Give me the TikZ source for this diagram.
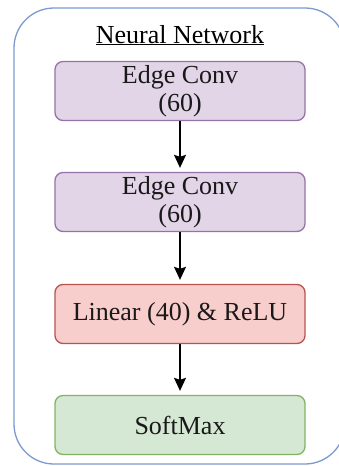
\documentclass[tikz,border=0pt]{standalone}
\usepackage{fontspec}
\setmainfont{Liberation Serif}
\usetikzlibrary{arrows.meta}
\definecolor{frameblue}{HTML}{7C9AD0}
\definecolor{convfill}{HTML}{E1D5E7}
\definecolor{convline}{HTML}{9673A6}
\definecolor{linfill}{HTML}{F8CECC}
\definecolor{linline}{HTML}{B85450}
\definecolor{smfill}{HTML}{D5E8D4}
\definecolor{smline}{HTML}{82B366}
\tikzset{
  layer/.style={rounded corners=8pt, line width=1.3pt, minimum width=250pt,
    minimum height=59pt, align=center, inner sep=0pt,
    font=\fontsize{26}{28}\selectfont, text=black!90},
  conv/.style={layer, fill=convfill, draw=convline},
  lin/.style={layer, fill=linfill, draw=linline},
  soft/.style={layer, fill=smfill, draw=smline},
  flow/.style={line width=1.6pt, -{Stealth[width=12pt,length=13pt,inset=2pt]}, shorten >=4pt}
}
\begin{document}
\begin{tikzpicture}[x=1pt,y=-1pt]
  \clip (0,0) rectangle (339,466);
  \fill[white] (0,0) rectangle (339,466);
  % outer frame
  \draw[frameblue, line width=1.3pt, rounded corners=40pt] (14,8) rectangle (345,464);
  % title
  \node[anchor=base, font=\fontsize{26}{28}\selectfont, inner sep=0pt] (title) at (180,43)
    {\underline{Neural Network}};
  % layers
  \node[conv] (c1) at (180,91) {Edge Conv\\(60)};
  \node[conv] (c2) at (180,202) {Edge Conv\\(60)};
  \node[lin] (l1) at (180,314) {Linear (40) \& ReLU};
  \node[soft] (sm) at (180,425) {SoftMax};
  % connections
  \draw[flow] (c1) -- (c2);
  \draw[flow] (c2) -- (l1);
  \draw[flow] (l1) -- (sm);
\end{tikzpicture}
\end{document}
